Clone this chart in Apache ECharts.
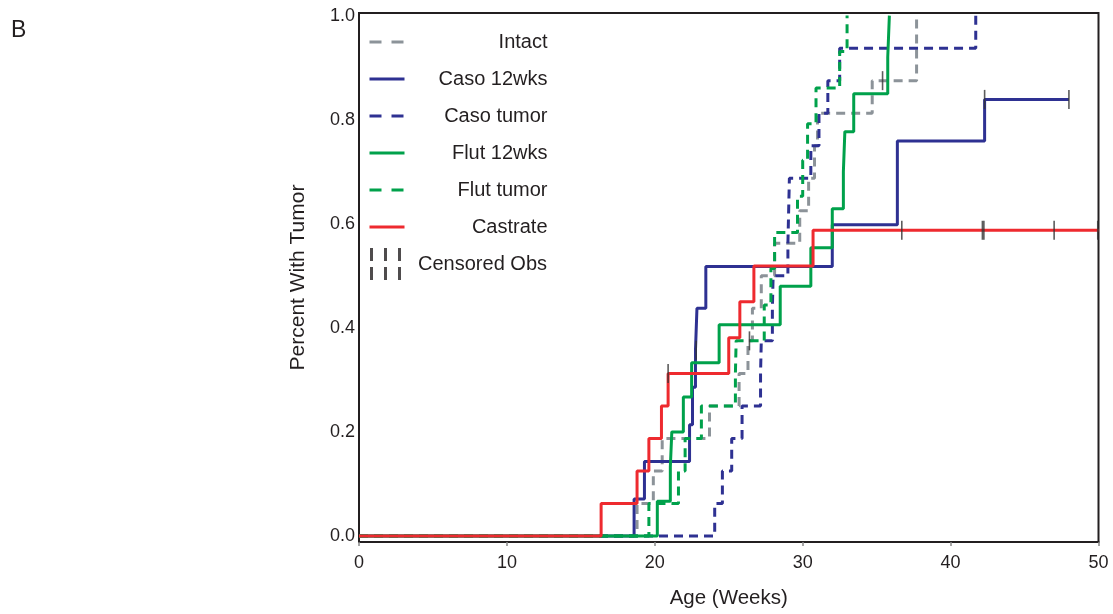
<!DOCTYPE html>
<html>
<head>
<meta charset="utf-8">
<script src="https://cdn.jsdelivr.net/npm/echarts@6/dist/echarts.min.js"></script>
<style>
  html, body { margin: 0; padding: 0; background: #fff; }
  #chart { width: 1113px; height: 614px; }
</style>
</head>
<body>
<div id="chart"></div>
<script>
// step points: age (weeks) and fraction with tumor
const ageIntact = [0, 18.8, 19.9, 20.5, 23.7, 25.7, 26.3, 26.6, 27.2, 28.1, 29.8, 30.4, 30.8, 31.0, 34.7, 37.7];
const pctIntact = [0, 0.0625, 0.125, 0.1875, 0.25, 0.3125, 0.375, 0.4375, 0.5, 0.5625, 0.625, 0.6875, 0.75, 0.8125, 0.875, 1.0];

const ageCaso12 = [0, 18.6, 19.3, 22.35, 22.55, 22.75, 22.85, 23.45, 32.0, 36.4, 42.3, 48.0];
const pctCaso12 = [0, 0.071, 0.143, 0.214, 0.286, 0.357, 0.4375, 0.518, 0.598, 0.759, 0.839, 0.839];

const ageCasoTumor = [0, 24.05, 24.57, 25.2, 25.9, 27.15, 27.2, 27.95, 28.0, 29.0, 29.05, 29.1, 30.55, 31.1, 31.7, 32.5, 41.7];
const pctCasoTumor = [0, 0.0625, 0.125, 0.1875, 0.25, 0.3125, 0.375, 0.4375, 0.5, 0.5625, 0.625, 0.6875, 0.75, 0.8125, 0.875, 0.9375, 1.0];

const ageFlut12 = [0, 20.17, 21.05, 21.15, 21.93, 22.49, 24.35, 28.48, 30.55, 32.0, 32.75, 32.85, 33.45, 35.75, 35.86];
const pctFlut12 = [0, 0.067, 0.133, 0.2, 0.267, 0.333, 0.406, 0.48, 0.554, 0.629, 0.70, 0.777, 0.85, 0.92, 1.0];

const ageFlutTumor = [0, 19.6, 21.6, 22.05, 23.15, 25.45, 25.5, 27.4, 27.85, 28.1, 29.65, 30.0, 30.33, 30.9, 32.5, 33.0];
const pctFlutTumor = [0, 0.0625, 0.125, 0.1875, 0.25, 0.3125, 0.375, 0.444, 0.514, 0.583, 0.653, 0.722, 0.792, 0.861, 0.931, 1.0];

const ageCastrate = [0, 16.37, 18.8, 19.6, 20.45, 20.9, 25.0, 25.75, 26.7, 30.7, 50];
const pctCastrate = [0, 0.0625, 0.125, 0.1875, 0.25, 0.3125, 0.381, 0.45, 0.519, 0.5875, 0.5875];

// censored observations (all groups)
const censorAge = [20.9, 22.8, 26.4, 35.4, 36.7, 42.15, 42.25, 42.3, 47.0, 48.0, 49.95];
const censorPct = [0.3125, 0.357, 0.375, 0.875, 0.5875, 0.5875, 0.5875, 0.839, 0.5875, 0.839, 0.5875];

const xTicks = [0, 10, 20, 30, 40, 50];
const yTicks = [0, 0.2, 0.4, 0.6, 0.8, 1.0];

const FONT = '"Liberation Sans", Arial, sans-serif';
const INK = '#231f20';

const zip = (a, b) => a.map((v, i) => [v, b[i]]);

function stepSeries(name, ages, pcts, color, dashed) {
    return {
        name: name,
        type: 'line',
        step: 'end',
        data: zip(ages, pcts),
        symbol: 'none',
        showSymbol: false,
        animation: false,
        lineStyle: { color: color, width: 3, type: dashed ? [9, 6] : 'solid' },
        itemStyle: { color: color }
    };
}

// legend icons use a longer dash than the plot lines
const legendDash = { type: [12, 10] };

const chart = echarts.init(document.getElementById('chart'));

const option = {
    backgroundColor: '#fff',
    animation: false,
    title: {
        text: 'B', left: 6, top: 14,
        textStyle: { fontSize: 23, fontWeight: 'normal', color: INK, fontFamily: FONT }
    },
    grid: {
        left: 359, right: 14.5, top: 13, bottom: 72,
        show: true, borderColor: INK, borderWidth: 2
    },
    legend: [
        {
            orient: 'vertical', left: 363, top: 27,
            itemWidth: 35, itemHeight: 14, itemGap: 17,
            selectedMode: false,
            data: [
                { name: 'Intact', lineStyle: legendDash },
                { name: 'Caso 12wks' },
                { name: 'Caso tumor', lineStyle: legendDash },
                { name: 'Flut 12wks' },
                { name: 'Flut tumor', lineStyle: legendDash },
                { name: 'Castrate' }
            ],
            formatter: '{r|{name}}',
            itemStyle: { color: 'rgba(0,0,0,0)', borderWidth: 0, opacity: 0 },
            lineStyle: { width: 3 },
            textStyle: {
                color: INK, fontFamily: FONT, fontSize: 20,
                rich: { r: { width: 138, align: 'right', fontSize: 20, lineHeight: 20, color: INK, fontFamily: FONT } }
            }
        },
        {
            orient: 'vertical', left: 365, top: 243,
            itemWidth: 31, itemHeight: 32,
            selectedMode: false,
            data: [{
                name: 'Censored Obs',
                icon: 'path://M0,0h3v13h-3z M14,0h3v13h-3z M28,0h3v13h-3z M0,19h3v13h-3z M14,19h3v13h-3z M28,19h3v13h-3z'
            }],
            itemStyle: { color: INK },
            formatter: '{r|{name}}',
            textStyle: {
                color: INK, fontFamily: FONT, fontSize: 20,
                rich: { r: { width: 141, align: 'right', fontSize: 20, lineHeight: 20, color: INK, fontFamily: FONT } }
            }
        }
    ],
    xAxis: {
        type: 'value', min: 0, max: 50, interval: 10,
        name: 'Age (Weeks)', nameLocation: 'middle', nameGap: 46,
        nameTextStyle: { fontSize: 20.5, color: INK, fontFamily: FONT },
        axisLine: { show: true, onZero: false, lineStyle: { color: INK, width: 2 } },
        axisTick: { show: true, length: 4, inside: false, lineStyle: { color: '#888', width: 1.5 }, customValues: xTicks },
        axisLabel: { margin: 12, fontSize: 18, color: INK, fontFamily: FONT, customValues: xTicks },
        splitLine: { show: false }
    },
    yAxis: {
        type: 'value', min: -0.0115, max: 1.005,
        name: 'Percent With Tumor', nameLocation: 'middle', nameGap: 50, nameRotate: 90,
        nameTextStyle: { fontSize: 21, color: INK, fontFamily: FONT },
        axisLine: { show: true, onZero: false, lineStyle: { color: INK, width: 2 } },
        axisTick: { show: false },
        axisLabel: {
            margin: 4, fontSize: 18, color: INK, fontFamily: FONT,
            customValues: yTicks,
            formatter: v => v.toFixed(1)
        },
        splitLine: { show: false }
    },
    series: [
        stepSeries('Intact', ageIntact, pctIntact, '#8c9399', true),
        stepSeries('Caso 12wks', ageCaso12, pctCaso12, '#2e3192', false),
        stepSeries('Caso tumor', ageCasoTumor, pctCasoTumor, '#2e3192', true),
        stepSeries('Flut 12wks', ageFlut12, pctFlut12, '#00a14b', false),
        stepSeries('Flut tumor', ageFlutTumor, pctFlutTumor, '#00a14b', true),
        stepSeries('Castrate', ageCastrate, pctCastrate, '#ee2a2f', false),
        {
            name: 'Censored Obs',
            type: 'scatter',
            data: zip(censorAge, censorPct),
            symbol: 'rect',
            symbolSize: [1.6, 19],
            itemStyle: { color: '#333' },
            animation: false,
            z: 5
        }
    ]
};

chart.setOption(option);
</script>
</body>
</html>
